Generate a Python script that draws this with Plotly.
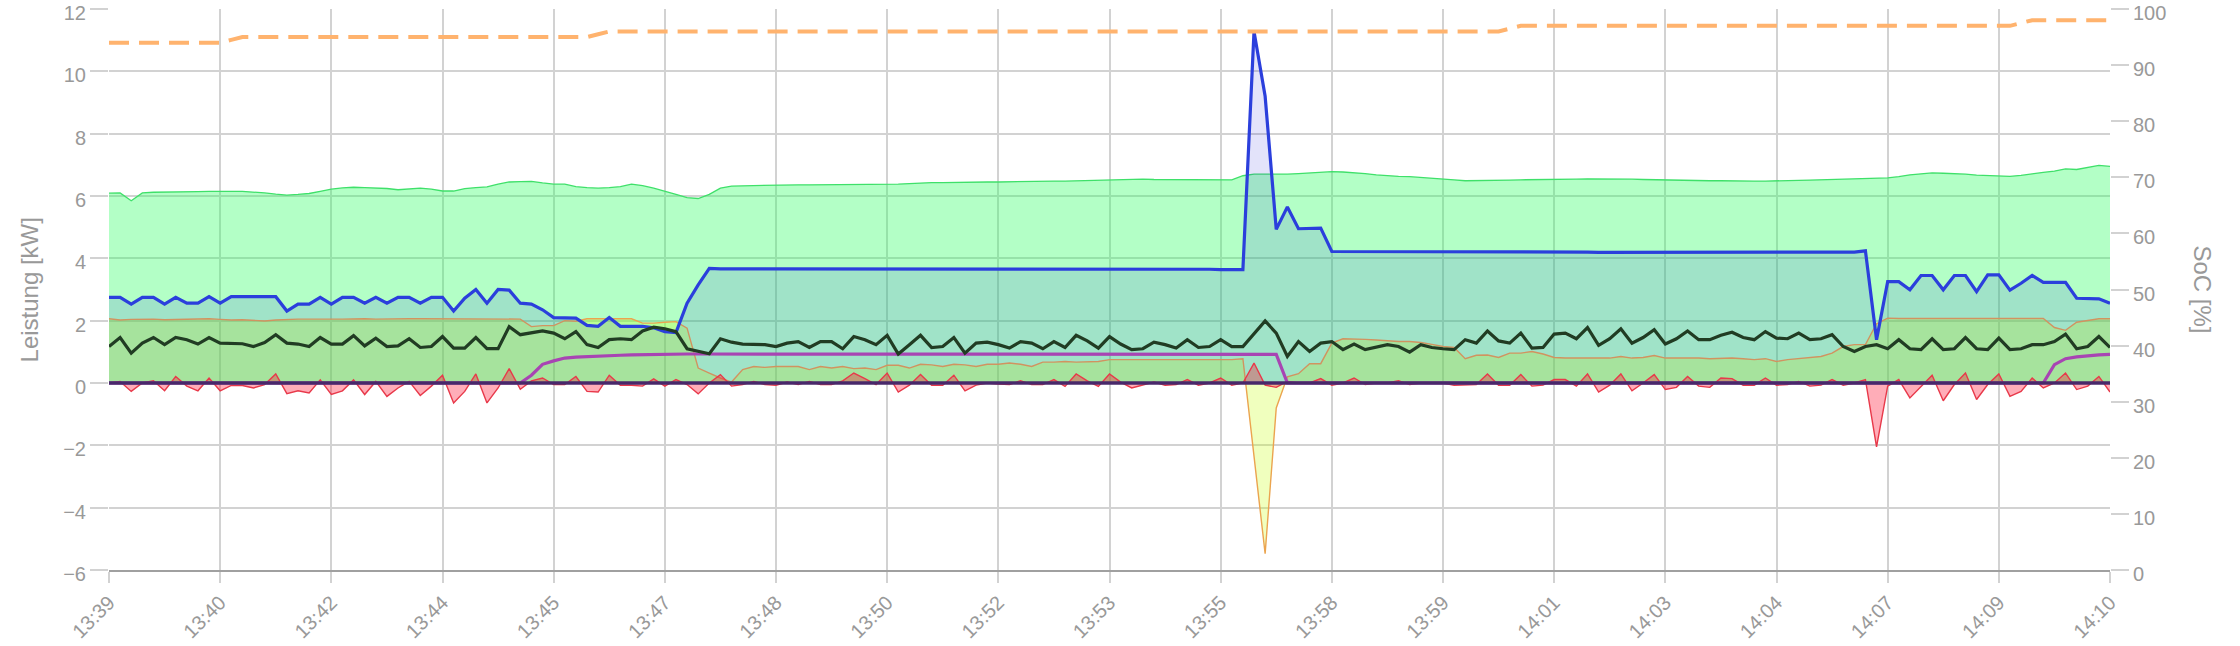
import plotly.graph_objects as go

tick_labels = ["13:39", "13:40", "13:42", "13:44", "13:45", "13:47", "13:48", "13:50", "13:52", "13:53",
               "13:55", "13:58", "13:59", "14:01", "14:03", "14:04", "14:07", "14:09", "14:10"]

pv = [6.09, 6.1, 5.85, 6.1, 6.12, 6.12, 6.13, 6.13, 6.14, 6.15,
      6.16, 6.15, 6.15, 6.13, 6.1, 6.06, 6.03, 6.05, 6.08, 6.15,
      6.22, 6.26, 6.28, 6.27, 6.26, 6.24, 6.2, 6.22, 6.25, 6.22,
      6.16, 6.16, 6.24, 6.27, 6.29, 6.38, 6.45, 6.46, 6.47, 6.42,
      6.38, 6.38, 6.3, 6.27, 6.25, 6.27, 6.3, 6.38, 6.33, 6.25,
      6.16, 6.05, 5.95, 5.92, 6.05, 6.25, 6.32, 6.33, 6.34, 6.34,
      6.35, 6.35, 6.36, 6.36, 6.36, 6.36, 6.37, 6.37, 6.37, 6.37,
      6.37, 6.38, 6.4, 6.42, 6.43, 6.43, 6.44, 6.44, 6.44, 6.45,
      6.45, 6.46, 6.46, 6.47, 6.47, 6.48, 6.48, 6.49, 6.5, 6.5,
      6.52, 6.53, 6.53, 6.54, 6.53, 6.53, 6.53, 6.53, 6.54, 6.54,
      6.53, 6.52, 6.65, 6.7, 6.7, 6.69, 6.7, 6.72, 6.74, 6.76,
      6.78, 6.77, 6.75, 6.72, 6.68, 6.65, 6.63, 6.62, 6.6, 6.57,
      6.55, 6.52, 6.49, 6.49, 6.5, 6.5, 6.51, 6.52, 6.52, 6.52,
      6.52, 6.53, 6.54, 6.55, 6.55, 6.56, 6.55, 6.54, 6.53, 6.52,
      6.52, 6.51, 6.5, 6.5, 6.49, 6.49, 6.48, 6.48, 6.48, 6.48,
      6.48, 6.49, 6.5, 6.51, 6.52, 6.53, 6.54, 6.55, 6.56, 6.57,
      6.58, 6.62, 6.68, 6.71, 6.74, 6.73, 6.72, 6.7, 6.67, 6.66,
      6.65, 6.63, 6.66, 6.72, 6.76, 6.8, 6.87, 6.85, 6.92, 6.98, 6.95]

house = [2.75, 2.75, 2.53, 2.75, 2.75, 2.53, 2.75, 2.56, 2.56, 2.77,
         2.56, 2.77, 2.77, 2.77, 2.77, 2.77, 2.31, 2.53, 2.53, 2.75,
         2.53, 2.75, 2.75, 2.56, 2.75, 2.56, 2.75, 2.75, 2.56, 2.75,
         2.75, 2.31, 2.72, 3.0, 2.56, 3.0, 2.98, 2.56, 2.53, 2.35,
         2.1, 2.1, 2.08, 1.85, 1.82, 2.1, 1.82, 1.82, 1.82, 1.77,
         1.65, 1.62, 2.56, 3.15, 3.68, 3.66, 3.66, 3.65, 3.65, 3.66,
         3.66, 3.66, 3.65, 3.66, 3.66, 3.67, 3.66, 3.66, 3.65, 3.66,
         3.66, 3.67, 3.66, 3.66, 3.65, 3.66, 3.66, 3.66, 3.67, 3.66,
         3.66, 3.66, 3.65, 3.66, 3.66, 3.66, 3.67, 3.66, 3.66, 3.66,
         3.66, 3.65, 3.66, 3.66, 3.66, 3.66, 3.65, 3.65, 3.65, 3.65,
         3.64, 3.65, 3.64, 11.28, 9.2, 4.93, 5.65, 4.95, 4.97, 4.97,
         4.22, 4.22, 4.21, 4.22, 4.22, 4.22, 4.21, 4.21, 4.21, 4.22,
         4.22, 4.21, 4.21, 4.2, 4.2, 4.21, 4.21, 4.21, 4.2, 4.2,
         4.2, 4.2, 4.2, 4.2, 4.19, 4.19, 4.2, 4.2, 4.2, 4.19,
         4.19, 4.2, 4.2, 4.2, 4.19, 4.2, 4.2, 4.2, 4.2, 4.2,
         4.2, 4.2, 4.2, 4.2, 4.2, 4.2, 4.2, 4.2, 4.24, 1.39,
         3.25, 3.25, 2.99, 3.45, 3.45, 2.99, 3.45, 3.45, 2.93, 3.47,
         3.47, 2.98, 3.2, 3.45, 3.23, 3.23, 3.23, 2.72, 2.72, 2.7, 2.56]

battery = [2.06, 2.02, 2.04, 2.05, 2.05, 2.03, 2.04, 2.05, 2.06, 2.06,
           2.04, 2.02, 2.03, 2.0, 1.99, 2.02, 2.04, 2.05, 2.05, 2.06,
           2.05, 2.05, 2.06, 2.06, 2.05, 2.06, 2.07, 2.06, 2.06, 2.06,
           2.06, 2.06, 2.07, 2.07, 2.06, 2.07, 2.07, 2.05, 1.81, 1.84,
           1.84, 2.0, 1.98, 2.06, 2.06, 2.06, 2.06, 2.06, 1.92, 1.92,
           1.95, 1.97, 1.76, 0.48, 0.32, 0.16, 0.03, 0.43, 0.53, 0.5,
           0.53, 0.53, 0.53, 0.43, 0.53, 0.48, 0.53, 0.46, 0.48, 0.43,
           0.57, 0.57, 0.48, 0.6, 0.58, 0.53, 0.6, 0.58, 0.53, 0.6,
           0.6, 0.64, 0.6, 0.53, 0.67, 0.67, 0.69, 0.67, 0.69, 0.69,
           0.75, 0.75, 0.74, 0.75, 0.76, 0.75, 0.74, 0.75, 0.76, 0.75,
           0.74, 0.75, 0.78, -2.3, -5.48, -0.8, 0.2, 0.3, 0.62, 0.62,
           1.28, 1.42, 1.42, 1.4, 1.38, 1.35, 1.33, 1.33, 1.3, 1.24,
           1.17, 1.14, 0.78, 0.89, 0.9, 0.82, 0.96, 0.96, 1.01, 0.93,
           0.82, 0.8, 0.8, 0.82, 0.82, 0.8, 0.85, 0.8, 0.82, 0.88,
           0.8, 0.8, 0.82, 0.8, 0.78, 0.8, 0.8, 0.78, 0.75, 0.78,
           0.69, 0.75, 0.78, 0.82, 0.85, 0.96, 1.17, 1.23, 1.23, 1.9,
           2.08, 2.07, 2.07, 2.07, 2.07, 2.07, 2.07, 2.06, 2.06, 2.06,
           2.06, 2.07, 2.07, 2.07, 2.07, 1.78, 1.69, 1.95, 2.0, 2.06, 2.06]

grid = [0.0, 0.05, -0.27, 0.0, 0.07, -0.25, 0.21, -0.1, -0.25, 0.16,
        -0.25, -0.08, -0.08, -0.16, -0.05, 0.29, -0.34, -0.25, -0.32, 0.1,
        -0.37, -0.25, 0.1, -0.37, 0.05, -0.43, -0.16, 0.05, -0.4, -0.1,
        0.25, -0.64, -0.27, 0.29, -0.64, -0.16, 0.46, -0.2, 0.07, 0.16,
        -0.05, -0.05, 0.21, -0.27, -0.29, 0.25, -0.07, -0.07, -0.1, 0.13,
        -0.1, 0.11, -0.05, -0.35, 0.0, 0.27, -0.1, -0.05, 0.05, -0.05,
        -0.07, 0.03, -0.05, 0.05, -0.05, -0.05, 0.07, 0.32, 0.14, -0.05,
        0.32, -0.29, -0.07, 0.27, -0.07, -0.07, 0.25, -0.25, -0.07, 0.0,
        -0.03, -0.05, 0.07, -0.05, -0.05, 0.11, -0.11, 0.29, 0.07, -0.11,
        0.29, 0.03, -0.16, -0.07, 0.03, -0.07, -0.05, 0.11, -0.07, 0.0,
        0.16, -0.07, 0.0, 0.64, -0.07, -0.14, 0.05, 0.0, 0.0, 0.14,
        -0.07, 0.0, 0.16, -0.05, 0.0, 0.0, 0.07, -0.05, 0.0, 0.0,
        0.0, -0.07, -0.05, -0.05, 0.29, -0.07, -0.07, 0.27, -0.1, -0.07,
        0.11, 0.11, -0.1, 0.29, -0.29, -0.07, 0.29, -0.25, 0.0, 0.27,
        -0.21, -0.14, 0.21, -0.1, -0.14, 0.16, 0.14, -0.07, -0.07, 0.16,
        -0.07, -0.05, 0.05, -0.1, -0.07, 0.11, -0.07, 0.0, 0.11, -2.05,
        -0.1, 0.11, -0.48, -0.1, 0.25, -0.57, -0.05, 0.32, -0.53, -0.05,
        0.29, -0.43, -0.27, 0.16, -0.16, 0.0, 0.32, -0.21, -0.1, 0.21, -0.29]

base_load = [1.17, 1.46, 0.96, 1.28, 1.46, 1.23, 1.46, 1.39, 1.25, 1.46,
             1.28, 1.26, 1.26, 1.17, 1.3, 1.55, 1.28, 1.25, 1.17, 1.46,
             1.25, 1.25, 1.52, 1.19, 1.44, 1.17, 1.19, 1.42, 1.14, 1.17,
             1.49, 1.12, 1.12, 1.46, 1.1, 1.1, 1.81, 1.55, 1.6, 1.67,
             1.6, 1.42, 1.65, 1.23, 1.14, 1.39, 1.42, 1.39, 1.67, 1.79,
             1.74, 1.65, 1.1, 1.01, 0.94, 1.42, 1.31, 1.25, 1.25, 1.23,
             1.17, 1.28, 1.33, 1.14, 1.33, 1.33, 1.1, 1.49, 1.39, 1.23,
             1.53, 0.93, 1.23, 1.53, 1.14, 1.17, 1.46, 0.96, 1.28, 1.31,
             1.23, 1.12, 1.33, 1.28, 1.1, 1.33, 1.14, 1.53, 1.35, 1.12,
             1.49, 1.25, 1.07, 1.1, 1.31, 1.23, 1.12, 1.39, 1.14, 1.17,
             1.39, 1.17, 1.17, 1.6, 1.99, 1.6, 0.85, 1.33, 1.01, 1.28,
             1.33, 1.07, 1.25, 1.07, 1.14, 1.23, 1.17, 0.99, 1.23, 1.14,
             1.1, 1.07, 1.39, 1.28, 1.67, 1.35, 1.28, 1.6, 1.12, 1.14,
             1.57, 1.6, 1.42, 1.78, 1.21, 1.42, 1.74, 1.28, 1.46, 1.71,
             1.25, 1.42, 1.67, 1.39, 1.39, 1.53, 1.63, 1.46, 1.39, 1.65,
             1.44, 1.42, 1.6, 1.39, 1.42, 1.55, 1.17, 1.01, 1.17, 1.23,
             1.1, 1.39, 1.1, 1.07, 1.42, 1.07, 1.1, 1.46, 1.1, 1.07,
             1.44, 1.07, 1.1, 1.23, 1.23, 1.33, 1.57, 1.1, 1.17, 1.49, 1.14]

wallbox = [0, 0, 0, 0, 0, 0, 0, 0, 0, 0,
           0, 0, 0, 0, 0, 0, 0, 0, 0, 0,
           0, 0, 0, 0, 0, 0, 0, 0, 0, 0,
           0, 0, 0, 0, 0, 0, 0, 0, 0.25, 0.6,
           0.71, 0.8, 0.83, 0.85, 0.87, 0.88, 0.89, 0.9, 0.91, 0.92,
           0.92, 0.93, 0.93, 0.93, 0.93, 0.93, 0.93, 0.93, 0.93, 0.93,
           0.93, 0.93, 0.93, 0.93, 0.93, 0.93, 0.93, 0.93, 0.93, 0.93,
           0.93, 0.93, 0.93, 0.93, 0.93, 0.93, 0.93, 0.93, 0.93, 0.93,
           0.93, 0.93, 0.93, 0.93, 0.93, 0.93, 0.93, 0.93, 0.93, 0.93,
           0.93, 0.93, 0.93, 0.93, 0.93, 0.93, 0.93, 0.93, 0.93, 0.93,
           0.92, 0.92, 0.92, 0.92, 0.92, 0.92, 0, 0, 0, 0,
           0, 0, 0, 0, 0, 0, 0, 0, 0, 0,
           0, 0, 0, 0, 0, 0, 0, 0, 0, 0,
           0, 0, 0, 0, 0, 0, 0, 0, 0, 0,
           0, 0, 0, 0, 0, 0, 0, 0, 0, 0,
           0, 0, 0, 0, 0, 0, 0, 0, 0, 0,
           0, 0, 0, 0, 0, 0, 0, 0, 0, 0,
           0, 0, 0, 0, 0, 0.59, 0.78, 0.84, 0.88, 0.9, 0.92]

soc = [94, 94, 94, 94, 94, 94, 94, 94, 94, 94,
       94, 94.5, 95, 95, 95, 95, 95, 95, 95, 95,
       95, 95, 95, 95, 95, 95, 95, 95, 95, 95,
       95, 95, 95, 95, 95, 95, 95, 95, 95, 95,
       95, 95, 95, 95, 95.5, 96, 96, 96, 96, 96,
       96, 96, 96, 96, 96, 96, 96, 96, 96, 96,
       96, 96, 96, 96, 96, 96, 96, 96, 96, 96,
       96, 96, 96, 96, 96, 96, 96, 96, 96, 96,
       96, 96, 96, 96, 96, 96, 96, 96, 96, 96,
       96, 96, 96, 96, 96, 96, 96, 96, 96, 96,
       96, 96, 96, 96, 96, 96, 96, 96, 96, 96,
       96, 96, 96, 96, 96, 96, 96, 96, 96, 96,
       96, 96, 96, 96, 96, 96, 96.5, 97, 97, 97,
       97, 97, 97, 97, 97, 97, 97, 97, 97, 97,
       97, 97, 97, 97, 97, 97, 97, 97, 97, 97,
       97, 97, 97, 97, 97, 97, 97, 97, 97, 97,
       97, 97, 97, 97, 97, 97, 97, 97, 97, 97,
       97, 97, 97.5, 98, 98, 98, 98, 98, 98, 98, 98]

x = list(range(len(pv)))
tick_pos = x[::10]

GRAY = "#999999"
GRID = "#d2d2d2"
FONT = "Liberation Sans, Arial, Helvetica, sans-serif"

fig = go.Figure()
fig.add_trace(go.Scatter(x=x, y=pv, mode="lines", fill="tozeroy",
                         line=dict(color="#3fe06a", width=1.3),
                         fillcolor="rgba(50,255,100,0.37)"))
fig.add_trace(go.Scatter(x=x, y=battery, mode="lines", fill="tozeroy",
                         line=dict(color="#eba44f", width=1.4),
                         fillcolor="rgba(200,255,20,0.28)"))
fig.add_trace(go.Scatter(x=x, y=house, mode="lines", fill="tozeroy",
                         line=dict(color="#2b3fdc", width=3.2),
                         fillcolor="rgba(40,40,220,0.13)"))
fig.add_trace(go.Scatter(x=x, y=grid, mode="lines", fill="tozeroy",
                         line=dict(color="#e8394a", width=1.4),
                         fillcolor="rgba(255,0,35,0.32)"))
fig.add_trace(go.Scatter(x=x, y=wallbox, mode="lines",
                         line=dict(color="#a844b3", width=3.2)))
fig.add_trace(go.Scatter(x=x, y=base_load, mode="lines",
                         line=dict(color="#213c23", width=3.2)))
fig.add_trace(go.Scatter(x=x, y=soc, mode="lines", yaxis="y2",
                         line=dict(color="#ffb36e", width=4, dash="20px,10px")))

fig.add_shape(type="line", xref="paper", yref="y", x0=0, x1=1, y0=0, y1=0,
              line=dict(color="#48286a", width=3.5), layer="above")

fig.update_layout(
    width=2240, height=646, autosize=False,
    margin=dict(l=109, r=130, t=9, b=76, pad=0),
    paper_bgcolor="white", plot_bgcolor="white",
    showlegend=False, hovermode=False,
    font=dict(family=FONT, size=20, color=GRAY),
    xaxis=dict(range=[0, 180], tickmode="array", tickvals=tick_pos, ticktext=tick_labels,
               tickangle=-45, showgrid=True, gridcolor=GRID, gridwidth=2, automargin=False,
               ticks="outside", ticklen=11, tickwidth=2, tickcolor=GRID,
               showline=True, linecolor="#a0a0a0", linewidth=2, zeroline=False,
               ticklabeloverflow="allow", tickfont=dict(size=20, color=GRAY)),
    yaxis=dict(range=[-6, 12], dtick=2, tick0=0, showgrid=True, gridcolor=GRID, gridwidth=2,
               ticks="outside", ticklen=18, tickwidth=2, tickcolor=GRID, automargin=False,
               zeroline=False, showline=False, ticklabeloverflow="allow", ticklabelshift=4,
               tickfont=dict(size=20, color=GRAY)),
    yaxis2=dict(range=[0, 100], dtick=10, tick0=0, overlaying="y", side="right",
                showgrid=False, zeroline=False, ticks="outside", ticklen=18, tickwidth=2,
                tickcolor=GRID, showline=False, automargin=False, ticklabeloverflow="allow",
                ticklabelshift=4, tickfont=dict(size=20, color=GRAY)),
    annotations=[
        dict(text="Leistung [kW]", xref="paper", yref="paper", x=-0.0395, y=0.5,
             xanchor="center", yanchor="middle", textangle=-90, showarrow=False,
             font=dict(size=24, color=GRAY, family=FONT)),
        dict(text="SoC [%]", xref="paper", yref="paper", x=1.046, y=0.5,
             xanchor="center", yanchor="middle", textangle=90, showarrow=False,
             font=dict(size=24, color=GRAY, family=FONT)),
    ],
)

# remove the page's default 8px body margin so the figure fills the window exactly
fig.write_html("out.html",
               config={"displayModeBar": False, "staticPlot": True},
               post_script="document.body.style.margin='0px';document.body.style.overflow='hidden';")
